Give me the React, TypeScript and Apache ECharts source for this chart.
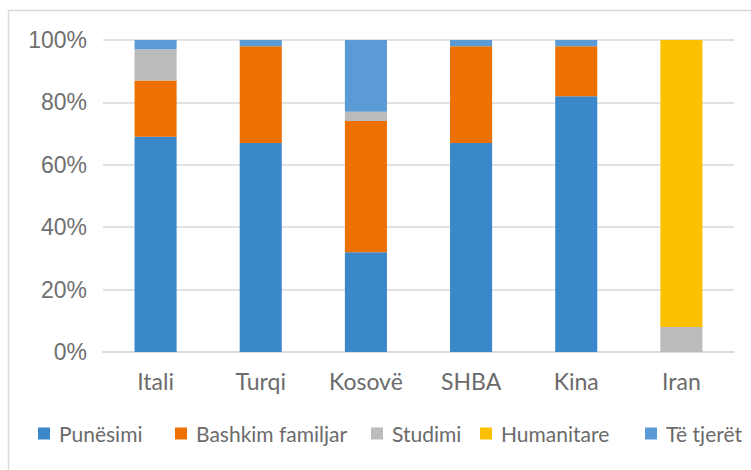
import React, { useEffect, useRef } from "react";
import * as echarts from "echarts";

const categories = ["Itali", "Turqi", "Kosovë", "SHBA", "Kina", "Iran"];
const seriesNames = ["Punësimi", "Bashkim familjar", "Studimi", "Humanitare", "Të tjerët"];
const punesimi = [69, 67, 32, 67, 82, 0];
const bashkim = [18, 31, 42, 31, 16, 0];
const studimi = [10, 0, 3, 0, 0, 8];
const humanitare = [0, 0, 0, 0, 0, 92];
const tjeret = [3, 2, 23, 2, 2, 0];
const yTicks = [0, 20, 40, 60, 80, 100];

const colors = ["#3A87C9", "#ED7100", "#BBBBBB", "#FBC000", "#5B9BD5"];
const legendLefts = [33, 170, 366, 475, 640];

export default function App() {
  const ref = useRef<HTMLDivElement>(null);
  useEffect(() => {
    if (!ref.current) return;
    const chart = echarts.init(ref.current, null, { renderer: "svg" });
    const values = [punesimi, bashkim, studimi, humanitare, tjeret];
    chart.setOption({
      animation: false,
      backgroundColor: "#ffffff",
      graphic: [
        {
          type: "rect",
          shape: { x: 8.5, y: 10.5, width: 800, height: 500 },
          style: { fill: "none", stroke: "#D9D9D9", lineWidth: 1.5 },
          silent: true,
        },
      ],
      grid: { left: 103, right: 17, top: 40, bottom: 118 },
      legend: seriesNames.map((n, i) => ({
        data: [n],
        left: legendLefts[i],
        top: 418,
        itemWidth: 12,
        itemHeight: 12,
        icon: "rect",
        textStyle: {
          fontFamily: "Lato",
          fontSize: 21,
          color: "#6B6B6B",
          padding: [0, 0, 0, 4],
        },
      })),
      xAxis: {
        type: "category",
        data: categories,
        axisLine: { lineStyle: { color: "#D9D9D9", width: 1.5 } },
        axisTick: { show: false },
        axisLabel: {
          fontFamily: "Lato",
          fontSize: 23,
          color: "#6B6B6B",
          margin: 17,
        },
      },
      yAxis: {
        type: "value",
        min: yTicks[0],
        max: yTicks[yTicks.length - 1],
        interval: 20,
        axisLine: { show: false },
        axisTick: { show: false },
        splitLine: { lineStyle: { color: "#D9D9D9", width: 1.5 } },
        axisLabel: {
          formatter: "{value}%",
          fontFamily: "Liberation Sans",
          fontSize: 23,
          color: "#707070",
          margin: 16,
        },
      },
      series: seriesNames.map((n, i) => ({
        name: n,
        type: "bar",
        stack: "total",
        barWidth: "40%",
        data: values[i],
        itemStyle: { color: colors[i] },
      })),
    });
    return () => chart.dispose();
  }, []);
  return (
    <div
      ref={ref}
      style={{ position: "absolute", left: 0, top: 0, width: 751, height: 470 }}
    />
  );
}
